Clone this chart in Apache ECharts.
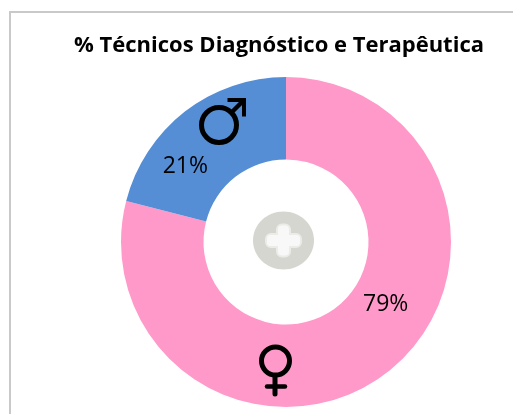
<!DOCTYPE html>
<html>
<head>
<meta charset="utf-8">
<style>html,body{margin:0;padding:0;background:#fff}#c{width:513px;height:414px}</style>
<script src="https://cdn.jsdelivr.net/npm/echarts@6/dist/echarts.min.js"></script>
</head>
<body>
<div id="c"></div>
<script>
const titleText = '% Técnicos Diagnóstico e Terapêutica';
const categories = ['Feminino', 'Masculino'];
const values = [79, 21];
const colors = ['#ff99c9', '#558ed5'];
const labelOffsets = [[22, -38], [-23, 25]];

const chart = echarts.init(document.getElementById('c'), null, {renderer: 'canvas'});
const ink = {stroke: '#000', fill: 'none', lineWidth: 5, lineCap: 'round'};
const Z = 10;
chart.setOption({
  animation: false,
  backgroundColor: '#fff',
  title: {
    text: titleText, left: 274, top: 30, textAlign: 'center',
    textStyle: {fontFamily: '"Open Sans"', fontWeight: 'bold', fontSize: 22, color: '#000'}
  },
  series: [{
    type: 'pie',
    center: [286, 242],
    radius: [82.5, 165],
    startAngle: 90,
    clockwise: true,
    silent: true,
    labelLine: {show: false},
    data: categories.map((name, i) => ({
      name, value: values[i],
      itemStyle: {color: colors[i]},
      label: {
        show: true, position: 'inside', formatter: '{c}%', offset: labelOffsets[i],
        fontFamily: '"Open Sans"', fontSize: 23, color: '#000'
      }
    }))
  }],
  graphic: [
    {type: 'rect', z: 0, shape: {x: 10, y: 12, width: 600, height: 500},
     style: {fill: 'none', stroke: '#c9c9c9', lineWidth: 2}},
    {type: 'ellipse', z: Z, shape: {cx: 283.5, cy: 240.5, rx: 30.5, ry: 29}, style: {fill: '#d6d6d0'}},
    {type: 'rect', z: Z, shape: {x: 266, y: 234, width: 35, height: 13, r: 5}, style: {fill: '#f8f8f8', stroke: '#ebebe8', lineWidth: 2}},
    {type: 'rect', z: Z, shape: {x: 277, y: 224.5, width: 13, height: 32, r: 5}, style: {fill: '#f8f8f8', stroke: '#ebebe8', lineWidth: 2}},
    {type: 'rect', z: Z, shape: {x: 267, y: 235, width: 33, height: 11, r: 4}, style: {fill: '#f8f8f8'}},
    // male sign
    {type: 'circle', z: Z, shape: {cx: 219, cy: 125, r: 17.5}, style: ink},
    {type: 'line', z: Z, shape: {x1: 232, y1: 112, x2: 244, y2: 100}, style: {...ink, lineWidth: 4.5, lineCap: 'butt'}},
    {type: 'polyline', z: Z, shape: {points: [[227.5, 100], [244, 100], [244, 116.5]]}, style: {...ink, lineWidth: 4, lineCap: 'butt', lineJoin: 'miter'}},
    // female sign
    {type: 'circle', z: Z, shape: {cx: 275.5, cy: 361, r: 14}, style: ink},
    {type: 'line', z: Z, shape: {x1: 275, y1: 376, x2: 275, y2: 394}, style: {...ink, lineWidth: 5}},
    {type: 'line', z: Z, shape: {x1: 267, y1: 386.5, x2: 285, y2: 386.5}, style: {...ink, lineWidth: 4.5}}
  ]
});
</script>
</body>
</html>
